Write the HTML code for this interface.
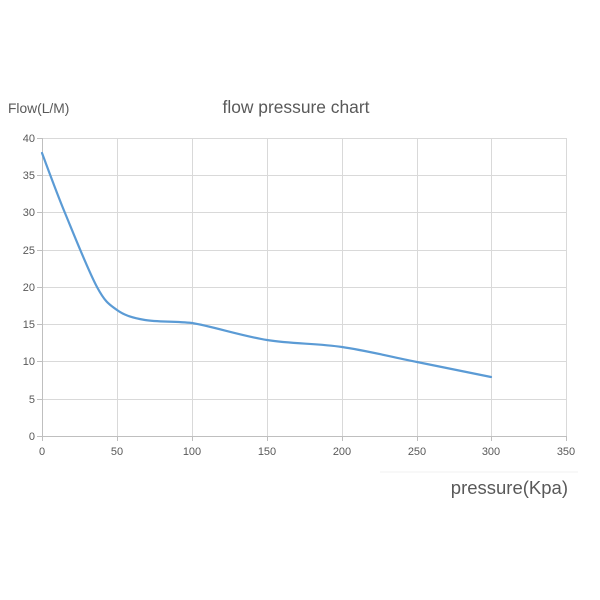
<!DOCTYPE html>
<html><head><meta charset="utf-8"><style>
html,body{margin:0;padding:0;background:#fff;}
svg{display:block;}
text{font-family:"Liberation Sans",sans-serif;fill:#595959;}
</style></head><body>
<svg width="600" height="600" viewBox="0 0 600 600" xmlns="http://www.w3.org/2000/svg">
<rect width="600" height="600" fill="#fff"/>
<!-- faint outer border remnants -->
<line x1="380" y1="472" x2="578" y2="472" stroke="#f2f2f2" stroke-width="1"/>
<!-- horizontal gridlines -->
<g stroke="#d9d9d9" stroke-width="1">
<line x1="42" y1="138.5" x2="566" y2="138.5"/>
<line x1="42" y1="175.5" x2="566" y2="175.5"/>
<line x1="42" y1="212.5" x2="566" y2="212.5"/>
<line x1="42" y1="250.5" x2="566" y2="250.5"/>
<line x1="42" y1="287.5" x2="566" y2="287.5"/>
<line x1="42" y1="324.5" x2="566" y2="324.5"/>
<line x1="42" y1="361.5" x2="566" y2="361.5"/>
<line x1="42" y1="399.5" x2="566" y2="399.5"/>
<!-- vertical gridlines -->
<line x1="117.5" y1="138" x2="117.5" y2="436"/>
<line x1="192.5" y1="138" x2="192.5" y2="436"/>
<line x1="267.5" y1="138" x2="267.5" y2="436"/>
<line x1="342.5" y1="138" x2="342.5" y2="436"/>
<line x1="417.5" y1="138" x2="417.5" y2="436"/>
<line x1="491.5" y1="138" x2="491.5" y2="436"/>
<line x1="566.5" y1="138" x2="566.5" y2="436"/>
</g>
<!-- axes -->
<g stroke="#bfbfbf" stroke-width="1">
<line x1="42.5" y1="138" x2="42.5" y2="441"/>
<line x1="37" y1="436.5" x2="566" y2="436.5"/>
<line x1="37" y1="138.5" x2="42" y2="138.5"/>
<line x1="37" y1="175.5" x2="42" y2="175.5"/>
<line x1="37" y1="212.5" x2="42" y2="212.5"/>
<line x1="37" y1="250.5" x2="42" y2="250.5"/>
<line x1="37" y1="287.5" x2="42" y2="287.5"/>
<line x1="37" y1="324.5" x2="42" y2="324.5"/>
<line x1="37" y1="361.5" x2="42" y2="361.5"/>
<line x1="37" y1="399.5" x2="42" y2="399.5"/>
<line x1="117.5" y1="436" x2="117.5" y2="441"/>
<line x1="192.5" y1="436" x2="192.5" y2="441"/>
<line x1="267.5" y1="436" x2="267.5" y2="441"/>
<line x1="342.5" y1="436" x2="342.5" y2="441"/>
<line x1="417.5" y1="436" x2="417.5" y2="441"/>
<line x1="491.5" y1="436" x2="491.5" y2="441"/>
<line x1="566.5" y1="436" x2="566.5" y2="441"/>
</g>
<!-- y tick labels -->
<g font-size="11" text-anchor="end">
<text x="35" y="142">40</text>
<text x="35" y="179">35</text>
<text x="35" y="216">30</text>
<text x="35" y="254">25</text>
<text x="35" y="291">20</text>
<text x="35" y="328">15</text>
<text x="35" y="365">10</text>
<text x="35" y="403">5</text>
<text x="35" y="440">0</text>
</g>
<!-- x tick labels -->
<g font-size="11" text-anchor="middle">
<text x="42" y="455">0</text>
<text x="117" y="455">50</text>
<text x="192" y="455">100</text>
<text x="267" y="455">150</text>
<text x="342" y="455">200</text>
<text x="417" y="455">250</text>
<text x="491" y="455">300</text>
<text x="566" y="455">350</text>
</g>
<!-- titles -->
<text x="296" y="113" font-size="17.4" text-anchor="middle">flow pressure chart</text>
<text x="8" y="113" font-size="13.8">Flow(L/M)</text>
<text x="568" y="494" font-size="18.5" text-anchor="end">pressure(Kpa)</text>
<!-- series -->
<path d="M42,153 C45.8,163 55.8,190.7 65,213 C74.2,235.3 88.3,270.8 97,287 C105.7,303.2 109.8,304.7 117,310 C124.2,315.3 132.5,317.8 145,320 C157.5,322.2 175,321 192,323 C212.3,326.3 242,336 267,340 C292,344 317,343.3 342,347 C367,350.7 392.2,357 417,362 C441.8,367 478.7,374.5 491,377"
 fill="none" stroke="#5b9bd5" stroke-width="2.2" stroke-linejoin="round" stroke-linecap="round"/>
</svg>
</body></html>
